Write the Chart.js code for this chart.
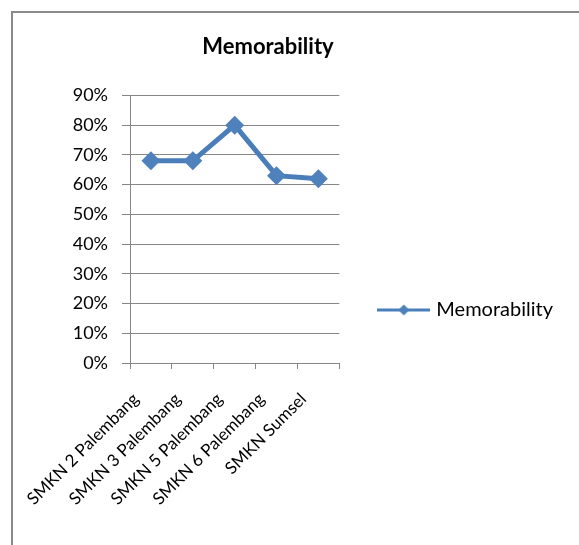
<!DOCTYPE html>
<html lang="id">
<head>
    <meta charset="UTF-8">
    <title>Memorability</title>
    <script src="https://cdn.jsdelivr.net/npm/chart.js"></script>
    <style>
        body { margin: 0; background: #fff; overflow: hidden; }
        .frame {
            position: absolute;
            left: 11px;
            top: 11px;
            width: 640px;
            height: 640px;
            border-left: 2px solid #8a8a8a;
            border-top: 2px solid #8a8a8a;
        }
        #chart { position: absolute; left: 0; top: 0; }
    </style>
</head>
<body>
    <div class="frame"></div>
    <canvas id="chart" width="579" height="545"></canvas>

    <script>
        // data
        const schools = ['SMKN 2 Palembang', 'SMKN 3 Palembang', 'SMKN 5 Palembang', 'SMKN 6 Palembang', 'SMKN Sumsel'];
        const memorability = [0.68, 0.68, 0.80, 0.63, 0.62];
        const yTicks = [0, 0.1, 0.2, 0.3, 0.4, 0.5, 0.6, 0.7, 0.8, 0.9];

        const lineColor = '#4A7EBB';
        const markerColor = '#4F81BD';
        const gridColor = '#868686';

        // legend symbol: line with diamond
        const sym = document.createElement('canvas');
        sym.width = 53; sym.height = 14;
        const sc = sym.getContext('2d');
        sc.strokeStyle = lineColor;
        sc.lineWidth = 3;
        sc.beginPath(); sc.moveTo(0, 7); sc.lineTo(53, 7); sc.stroke();
        sc.fillStyle = markerColor;
        sc.beginPath(); sc.moveTo(26.5, 1.5); sc.lineTo(32, 7); sc.lineTo(26.5, 12.5); sc.lineTo(21, 7); sc.closePath(); sc.fill();

        // put title and legend where Excel has them
        const placeBoxes = {
            id: 'placeBoxes',
            afterLayout(chart) {
                const t = chart.titleBlock;
                t.left = 0; t.right = 536; t.width = 536;
                const l = chart.legend;
                const w = l.width, h = l.height;
                l.left = 579 - 16 - w; l.right = l.left + w;
                l.top = 310 - h / 2; l.bottom = l.top + h;
            }
        };

        Chart.defaults.font.family = 'Lato, "Liberation Sans", sans-serif';
        Chart.defaults.color = '#000';

        new Chart(document.getElementById('chart'), {
            type: 'line',
            data: {
                labels: schools,
                datasets: [{
                    label: 'Memorability',
                    data: memorability,
                    borderColor: lineColor,
                    backgroundColor: markerColor,
                    borderWidth: 5,
                    pointStyle: 'rectRot',
                    pointRadius: 9.5,
                    pointHoverRadius: 9.5,
                    pointBorderWidth: 0,
                    pointBackgroundColor: markerColor,
                    tension: 0
                }]
            },
            options: {
                responsive: false,
                animation: false,
                layout: { padding: { left: 68, right: 48, top: 12, bottom: 32 } },
                plugins: {
                    title: {
                        display: true,
                        text: 'Memorability',
                        font: { size: 22, weight: 'bold' },
                        color: '#000',
                        padding: { top: 22, bottom: 35 }
                    },
                    legend: {
                        position: 'right',
                        maxWidth: 220,
                        labels: {
                            usePointStyle: true,
                            pointStyle: sym,
                            pointStyleWidth: 45,
                            font: { size: 20 },
                            color: '#000',
                            padding: 10
                        }
                    },
                    tooltip: { enabled: false }
                },
                scales: {
                    x: {
                        offset: true,
                        grid: {
                            offset: true,
                            drawOnChartArea: false,
                            drawTicks: true,
                            tickLength: 6,
                            color: gridColor
                        },
                        border: { color: gridColor, width: 1 },
                        ticks: {
                            minRotation: 45,
                            maxRotation: 45,
                            font: { size: 17 },
                            padding: 20,
                            labelOffset: -15
                        },
                        afterFit(scale) { scale.height = 150; }
                    },
                    y: {
                        min: 0,
                        max: 0.9,
                        afterBuildTicks(scale) {
                            scale.ticks = yTicks.map(v => ({ value: v }));
                        },
                        grid: {
                            color: gridColor,
                            drawTicks: true,
                            tickLength: 8
                        },
                        border: { color: gridColor, width: 1 },
                        ticks: {
                            font: { size: 18 },
                            padding: 14,
                            callback: v => Math.round(v * 100) + '%'
                        },
                        afterFit(scale) { scale.width = 62; }
                    }
                }
            },
            plugins: [placeBoxes]
        });
    </script>
</body>
</html>
